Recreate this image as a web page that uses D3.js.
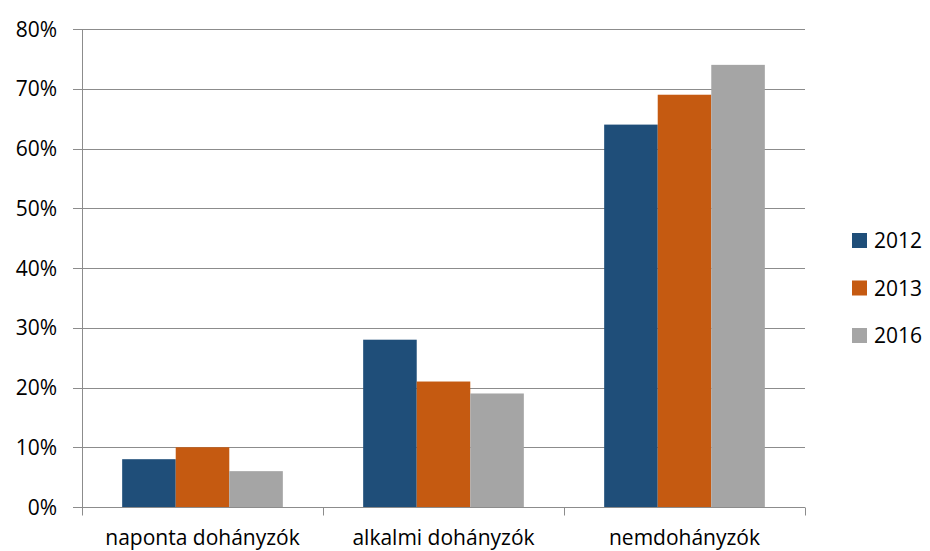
<!DOCTYPE html>
<html>
<head>
<meta charset="utf-8">
<script src="https://cdn.jsdelivr.net/npm/d3@7"></script>
<style>
  body { margin: 0; background: #fff; }
  svg text { font-family: "Open Sans", "Noto Sans", sans-serif; fill: #000; }
</style>
</head>
<body>
<div id="chart"></div>
<script>
// data
const categories = ["naponta dohányzók", "alkalmi dohányzók", "nemdohányzók"];
const years = ["2012", "2013", "2016"];
const values2012 = [8, 28, 64];
const values2013 = [10, 21, 69];
const values2016 = [6, 19, 74];
const yTicks = [0, 10, 20, 30, 40, 50, 60, 70, 80];
const colors = ["#1f4e79", "#c55a11", "#a5a5a5"];

const series = [values2012, values2013, values2016];

const width = 930, height = 551;
const margin = {top: 29, left: 82, right: 125, bottom: 44};

const svg = d3.select("#chart").append("svg")
  .attr("width", width)
  .attr("height", height);

// scales
const x = d3.scaleBand()
  .domain(categories)
  .range([margin.left, width - margin.right])
  .padding(0);

const y = d3.scaleLinear()
  .domain([0, 80])
  .range([height - margin.bottom, margin.top]);

// bar width: excel style gap width of 150%
const barW = x.bandwidth() / 4.5;
const xi = d3.scaleBand()
  .domain(years)
  .range([0.75 * barW, x.bandwidth() - 0.75 * barW]);

// gridlines
svg.append("g")
  .selectAll("line")
  .data(yTicks)
  .join("line")
  .attr("x1", margin.left - 9)
  .attr("x2", width - margin.right)
  .attr("y1", d => Math.round(y(d)) + 0.5)
  .attr("y2", d => Math.round(y(d)) + 0.5)
  .attr("stroke", "#8c8c8c")
  .attr("stroke-width", 1);

// y labels
svg.append("g")
  .selectAll("text")
  .data(yTicks)
  .join("text")
  .attr("x", 57)
  .attr("y", d => y(d))
  .attr("dy", "0.36em")
  .attr("text-anchor", "end")
  .style("font-size", "21px")
  .text(d => d + "%");

// bars
const groups = svg.append("g")
  .selectAll("g")
  .data(series)
  .join("g")
  .attr("fill", (d, i) => colors[i]);

groups.selectAll("rect")
  .data((d, i) => d.map((v, j) => ({cat: categories[j], year: years[i], v})))
  .join("rect")
  .attr("x", d => x(d.cat) + xi(d.year))
  .attr("width", xi.bandwidth())
  .attr("y", d => y(d.v))
  .attr("height", d => y(0) - y(d.v));

// y axis line
svg.append("line")
  .attr("x1", margin.left + 0.5)
  .attr("x2", margin.left + 0.5)
  .attr("y1", margin.top)
  .attr("y2", y(0))
  .attr("stroke", "#8c8c8c");

// x axis line and ticks
const bottom = Math.round(y(0)) + 0.5;
svg.append("line")
  .attr("x1", margin.left - 9)
  .attr("x2", width - margin.right)
  .attr("y1", bottom)
  .attr("y2", bottom)
  .attr("stroke", "#8c8c8c");

const bounds = categories.map(c => x(c)).concat([width - margin.right]);
svg.append("g")
  .selectAll("line")
  .data(bounds)
  .join("line")
  .attr("x1", d => Math.round(d) + 0.5)
  .attr("x2", d => Math.round(d) + 0.5)
  .attr("y1", bottom)
  .attr("y2", bottom + 8)
  .attr("stroke", "#8c8c8c");

// category labels
svg.append("g")
  .selectAll("text")
  .data(categories)
  .join("text")
  .attr("x", d => x(d) + x.bandwidth() / 2)
  .attr("y", 545)
  .attr("text-anchor", "middle")
  .style("font-size", "21px")
  .text(d => d);

// legend
const legend = svg.append("g")
  .selectAll("g")
  .data(years)
  .join("g")
  .attr("transform", (d, i) => `translate(852, ${233 + i * 47.5})`);

legend.append("rect")
  .attr("width", 15)
  .attr("height", 15)
  .attr("fill", (d, i) => colors[i]);

legend.append("text")
  .attr("x", 22)
  .attr("y", 7.5)
  .attr("dy", "0.36em")
  .style("font-size", "21px")
  .text(d => d);
</script>
</body>
</html>
